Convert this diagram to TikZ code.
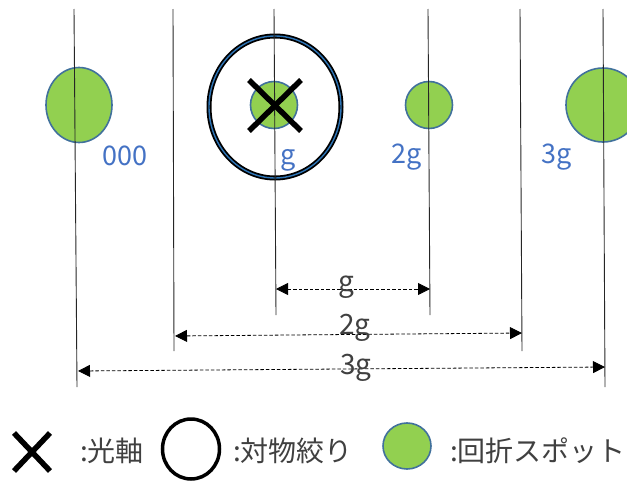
\documentclass[tikz,border=0pt]{standalone}
\usepackage{fontspec}
\setmainfont{Noto Sans CJK JP}
\usetikzlibrary{arrows.meta,shapes.geometric}
\definecolor{spotgreen}{HTML}{92D050}
\definecolor{spotedge}{HTML}{41719C}
\definecolor{lblblue}{HTML}{4472C4}
\definecolor{dimgray}{HTML}{404040}
\definecolor{aperblue}{HTML}{2E75B6}
\begin{document}
\begin{tikzpicture}[x=1pt,y=-1pt,
  axisline/.style={line width=0.9pt, black!85},
  spot/.style={ellipse, draw=spotedge, line width=1.6pt, fill=spotgreen, inner sep=0pt},
  aper/.style={ellipse, draw=black, line width=5pt, inner sep=0pt},
  dimarrow/.style={{Triangle[length=12pt,width=12pt]}-{Triangle[length=12pt,width=12pt]}, line width=0.8pt, dash pattern=on 3.5pt off 2pt},
  bluelbl/.style={text=lblblue, font=\fontsize{27}{30}\selectfont, inner sep=0pt, anchor=base},
  dimlbl/.style={text=dimgray, font=\fontsize{28}{30}\selectfont, inner sep=0pt, anchor=base},
  legtext/.style={text=dimgray, font=\fontsize{28}{30}\selectfont, inner sep=0pt, anchor=west},
  xmark/.style={line width=5.5pt, black}]
\useasboundingbox (0,0) rectangle (627,482);
% spots and aperture
\node[spot, minimum width=66, minimum height=75] (s0) at (79,105) {};
\node[spot, minimum width=47, minimum height=47] (s1) at (274,105) {};
\node[spot, minimum width=47, minimum height=47] (s2) at (429,105) {};
\node[spot, minimum width=74, minimum height=74] (s3) at (603,105) {};
\node[aper, minimum width=132, minimum height=142] (ap) at (275,107) {};
\node[ellipse, draw=aperblue, line width=1.4pt, inner sep=0pt, minimum width=132, minimum height=142] (apin) at (ap.center) {};
% vertical lines
\coordinate (t1) at (74,9);  \coordinate (b1) at (77,387);
\coordinate (t2) at (173,9); \coordinate (b2) at (174,351);
\coordinate (t3) at (274,9); \coordinate (b3) at (276,315);
\coordinate (t4) at (428,9); \coordinate (b4) at (430,315);
\coordinate (t5) at (520,9); \coordinate (b5) at (522,351);
\coordinate (t6) at (603,9); \coordinate (b6) at (605,387);
\foreach \i in {1,...,6} \draw[axisline] (t\i) -- (b\i);
% optical axis mark
\draw[xmark] (s1.center) +(-25,-25) -- +(27,26);
\draw[xmark] (s1.center) +(-25,26) -- +(27,-25);
% blue labels
\node[bluelbl] (l0) at (125,165) {000};
\node[bluelbl] (l1) at (288,164) {g};
\node[bluelbl] (l2) at (407,163) {2g};
\node[bluelbl] (l3) at (557,163) {3g};
% dimension arrows
\coordinate (a1) at (276,289); \coordinate (a2) at (430,289);
\coordinate (c1) at (175,336); \coordinate (c2) at (522,333);
\coordinate (d1) at (78,371);  \coordinate (d2) at (605,367);
\draw[dimarrow] (a1) -- (a2);
\draw[dimarrow] (c1) -- (c2);
\draw[dimarrow] (d1) -- (d2);
\node[dimlbl] (g1) at (346,291) {g};
\node[dimlbl] (g2) at (355,334) {2g};
\node[dimlbl] (g3) at (356,374) {3g};
% legend
\coordinate (lx) at (32,452);
\draw[xmark] (lx) +(-18,-19) -- +(18,19);
\draw[xmark] (lx) +(-18,19) -- +(18,-19);
\node[legtext] (lt1) at (80,451) {:光軸};
\node[ellipse, draw=black, line width=3.5pt, inner sep=0pt, minimum width=57, minimum height=60] (lc) at (191,449) {};
\node[legtext] (lt2) at (233,451) {:対物絞り};
\node[spot, minimum width=48, minimum height=46] (lg) at (407,446) {};
\node[legtext] (lt3) at (450,451) {:回折スポット};
\end{tikzpicture}
\end{document}
